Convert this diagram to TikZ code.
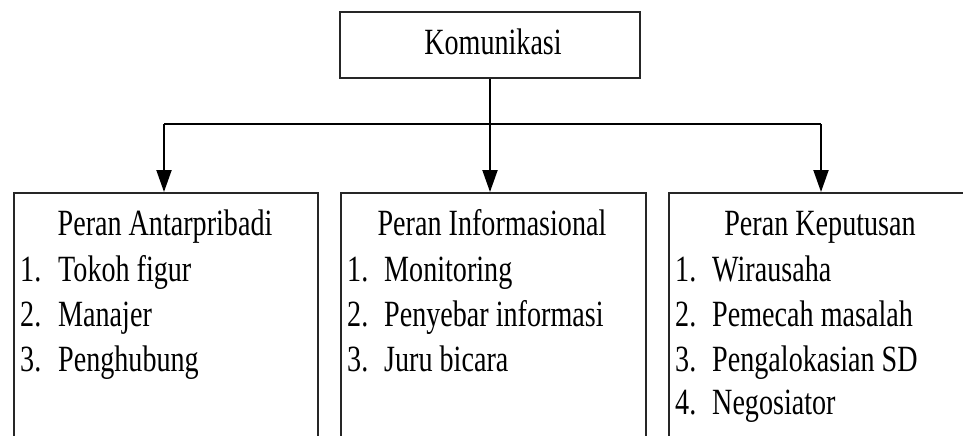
\documentclass[tikz,border=0pt]{standalone}
\usepackage{fontspec}
\setmainfont{Liberation Serif}[FakeStretch=0.76]
\usetikzlibrary{arrows.meta}
\begin{document}
\begin{tikzpicture}[x=1pt,y=-1pt,
  box/.style={draw=black!85,line width=2pt,inner sep=0pt},
  topbox/.style={box,line width=2.4pt},
  conn/.style={line width=2pt,draw=black},
  arr/.style={conn,-{Triangle[width=15pt,length=22pt]}},
  txt/.style={inner sep=0pt,anchor=base west,font=\fontsize{37}{44}\selectfont},
  ttl/.style={inner sep=0pt,anchor=base,font=\fontsize{37}{44}\selectfont}]
\clip (0,0) rectangle (963,436);
\fill[white] (0,0) rectangle (963,436);
% top box
\node[topbox,minimum width=300pt,minimum height=66pt] (top) at (490,45) {};
\node[ttl] (toptxt) at (493,55) {Komunikasi};
% bottom boxes (cut off by the frame)
\node[box,anchor=north west,minimum width=304pt,minimum height=290pt] (b1) at (13,192) {};
\node[box,anchor=north west,minimum width=305pt,minimum height=290pt] (b2) at (340,192) {};
\node[box,anchor=north west,minimum width=320pt,minimum height=290pt] (b3) at (668,192) {};
% connectors
\coordinate (jL) at (164,124);
\coordinate (jR) at (821,124);
\coordinate (jM) at (490,124);
\draw[conn] (jL) -- (jR);
\draw[conn] (top.south) -- (jM);
\draw[arr] (jL) -- (jL |- b1.north);
\draw[arr] (jM) -- (jM |- b2.north);
\draw[arr] (jR) -- (jR |- b3.north);
% box 1 texts
\node[ttl] (t1) at (165,235) {Peran Antarpribadi};
\node[txt] (n11) at (20,281) {1.};
\node[txt] (i11) at (58,281) {Tokoh figur};
\node[txt] (n12) at (20,326) {2.};
\node[txt] (i12) at (58,326) {Manajer};
\node[txt] (n13) at (20,371) {3.};
\node[txt] (i13) at (58,371) {Penghubung};
% box 2 texts
\node[ttl] (t2) at (492,235) {Peran Informasional};
\node[txt] (n21) at (347,281) {1.};
\node[txt] (i21) at (384,281) {Monitoring};
\node[txt] (n22) at (347,326) {2.};
\node[txt] (i22) at (384,326) {Penyebar informasi};
\node[txt] (n23) at (347,371) {3.};
\node[txt] (i23) at (384,371) {Juru bicara};
% box 3 texts
\node[ttl] (t3) at (820,235) {Peran Keputusan};
\node[txt] (n31) at (675,281) {1.};
\node[txt] (i31) at (712,281) {Wirausaha};
\node[txt] (n32) at (675,326) {2.};
\node[txt] (i32) at (712,326) {Pemecah masalah};
\node[txt] (n33) at (675,371) {3.};
\node[txt] (i33) at (712,371) {Pengalokasian SD};
\node[txt] (n34) at (675,414) {4.};
\node[txt] (i34) at (712,414) {Negosiator};
\end{tikzpicture}
\end{document}
